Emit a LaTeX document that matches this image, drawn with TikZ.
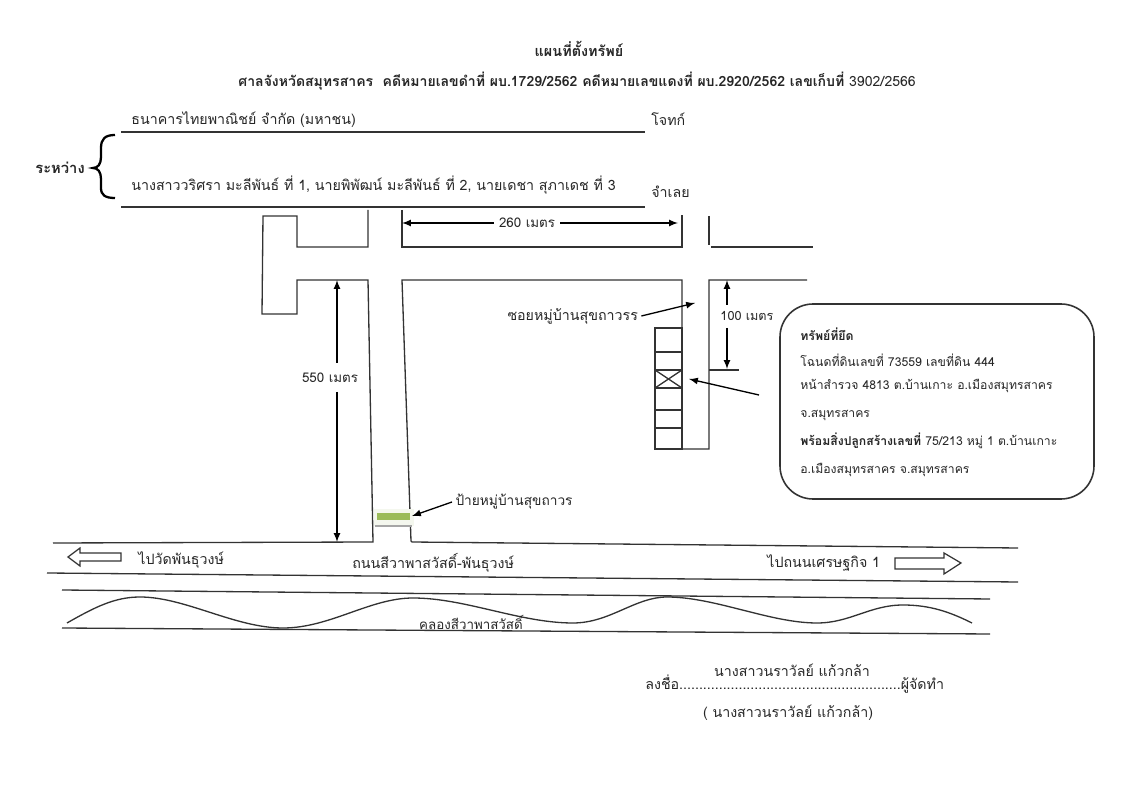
\documentclass[tikz,border=0pt]{standalone}
\usepackage{fontspec}
\setmainfont[Script=Thai]{Loma}

\definecolor{signgreen}{HTML}{9BBB59}
\definecolor{signhalo}{HTML}{F4F7EE}
\definecolor{inkgray}{gray}{0.2}

\tikzset{
  wall/.style={draw=inkgray, line width=0.75pt},
  mapline/.style={draw=inkgray, line width=0.75pt},
  dimarrow/.style={draw=black, line width=0.75pt, ->, >=latex},
  blockarrow/.style={draw=inkgray, line width=0.7pt, fill=white},
  lbl/.style={inner sep=0pt, anchor=west, text=black!85, font=\fontsize{8.1pt}{9pt}\selectfont},
  lblc/.style={inner sep=0pt, text=black!85, font=\fontsize{8.1pt}{9pt}\selectfont},
  dimlbl/.style={inner sep=0pt, text=black!85, font=\fontsize{7.6pt}{9pt}\selectfont},
  infotext/.style={inner sep=0pt, anchor=west, text=black!85, font=\fontsize{6.95pt}{8pt}\selectfont},
}

\begin{document}
\begin{tikzpicture}[x=0.02cm, y=-0.02cm]

\useasboundingbox (0,0) rectangle (1144,800);

\def\xst{121}; % party lines
\def\xen{645};
\def\xwa{368}; % main soi walls
\def\xwb{402};
\def\xsa{682}; % side soi walls
\def\xsb{709};
\def\yso{247}; % cross road
\def\ysu{280};

% heading
\node[lblc, font=\bfseries\fontsize{8.2pt}{9pt}\selectfont] (title) at (579, 49) {แผนที่ตั้งทรัพย์};
\node[lbl, font=\fontsize{8pt}{9pt}\selectfont] (court) at (238, 81) {\textbf{ศาลจังหวัดสมุทรสาคร\ \ คดีหมายเลขดำที่ ผบ.1729/2562 คดีหมายเลขแดงที่ ผบ.2920/2562 เลขเก็บที่} 3902/2566};

% parties
\node[lbl] (plaintiff) at (131, 120) {ธนาคารไทยพาณิชย์ จำกัด (มหาชน)};
\node[lbl] (plaintiffrole) at (651, 119) {โจทก์};
\node[lbl] (defendant) at (131, 185) {นางสาววริศรา มะลีพันธ์ ที่ 1, นายพิพัฒน์ มะลีพันธ์ ที่ 2, นายเดชา สุภาเดช ที่ 3};
\node[lbl] (defendantrole) at (651, 192) {จำเลย};
\node[lbl, font=\bfseries\fontsize{8.4pt}{9pt}\selectfont] (between) at (35, 168) {ระหว่าง};
\draw[mapline] (\xst, 132) -- (\xen, 132);
\draw[mapline] (\xst, 207) -- (\xen, 207);
% brace
\draw[black, line width=1.3pt] (115, 135) .. controls (105, 135) and (101, 139) .. (101, 148) -- (101, 157)
  .. controls (101, 164) and (98, 168) .. (93, 168)
  .. controls (98, 168) and (101, 172) .. (101, 179) -- (101, 188)
  .. controls (101, 195) and (105, 198) .. (115, 198);

% soi walls
\draw[wall] (\xwa, 210) -- (\xwa, \yso) -- (297, \yso) -- (297, 216) -- (263, 216) -- (262, 314) -- (297, 314) -- (297, \ysu) -- (\xwa, \ysu) -- (373, 542) -- (53, 543);
\draw[wall] (\xwb, 210) -- (\xwb, \yso) -- (\xsa, \yso) -- (\xsa, 215);
\draw[wall] (\xsb, 216) -- (\xsb, 245);
\draw[wall] (711, \yso) -- (813, \yso);
\draw[wall] (807, \ysu) -- (\xsb, \ysu) -- (\xsb, 449) -- (\xsa, 449) -- (\xsa, \ysu) -- (\xwb, \ysu) -- (411, 541) -- (412, 542) -- (1018, 548);
\draw[mapline] (47, 573) -- (1018, 582);

% canal
\draw[mapline] (62, 590) -- (990, 599);
\draw[mapline] (62, 628) -- (990, 634);
\draw[mapline] (67, 623) .. controls (95, 607) and (115, 597) .. (140, 597)
  .. controls (185, 597) and (235, 628) .. (283, 628)
  .. controls (330, 628) and (370, 598) .. (413, 598)
  .. controls (465, 598) and (520, 623) .. (573, 623)
  .. controls (610, 623) and (635, 597) .. (667, 597)
  .. controls (715, 597) and (770, 623) .. (817, 623)
  .. controls (850, 623) and (870, 605) .. (903, 605)
  .. controls (930, 605) and (950, 612) .. (972, 623);
\node[dimlbl] (canal) at (471, 622) {คลองสีวาพาสวัสดิ์};

% houses
\draw[wall] (655, 328) rectangle (\xsa, 449);
\foreach \yh in {352, 370, 388, 410, 428}
  \draw[wall] (655, \yh) -- (\xsa, \yh);
\draw[wall] (655, 370) -- (\xsa, 388);
\draw[wall] (655, 388) -- (\xsa, 370);
\draw[wall] (\xsb, 370) -- (739, 370);

% village sign
\fill[signhalo] (374, 509) rectangle (414, 526);
\fill[signgreen] (377, 513) rectangle (410, 520);
\draw[black!35, line width=0.75pt] (375, 526) -- (412, 526);

% dimensions
\node[dimlbl, outer sep=3pt] (dist260) at (527, 223) {260 เมตร};
\coordinate (dist260l) at (\xwb, 223);
\coordinate (dist260r) at (678, 223);
\draw[dimarrow] (dist260) -- (dist260l);
\draw[dimarrow] (dist260) -- (dist260r);

\node[dimlbl] (dist550) at (330, 378) {550 เมตร};
\coordinate (dist550a) at (337, 363);
\coordinate (dist550b) at (337, \ysu);
\coordinate (dist550c) at (337, 392);
\coordinate (dist550d) at (337, 542);
\draw[dimarrow] (dist550a) -- (dist550b);
\draw[dimarrow] (dist550c) -- (dist550d);

\node[dimlbl, font=\fontsize{7.2pt}{9pt}\selectfont] (dist100) at (747, 316) {100 เมตร};
\coordinate (dist100a) at (727, 305);
\coordinate (dist100b) at (727, \ysu);
\coordinate (dist100c) at (727, 328);
\coordinate (dist100d) at (727, 369);
\draw[dimarrow] (dist100a) -- (dist100b);
\draw[dimarrow] (dist100c) -- (dist100d);

% pointers
\node[lbl, outer sep=2pt] (soilabel) at (504, 316) {ซอยหมู่บ้านสุขถาวรร};
\coordinate (soiend) at (695, 303);
\draw[dimarrow] (soilabel.east) -- (soiend);

\node[lbl, outer sep=2pt, font=\fontsize{7.8pt}{9pt}\selectfont] (signlabel) at (452, 502) {ป้ายหมู่บ้านสุขถาวร};
\coordinate (signend) at (412, 516);
\draw[dimarrow] (signlabel.west) -- (signend);

\coordinate (housestart) at (759, 395);
\coordinate (houseend) at (689, 379);
\draw[dimarrow] (housestart) -- (houseend);

% seized property box
\draw[draw=inkgray, line width=0.9pt, rounded corners=0.66cm] (780, 304) rectangle (1094, 499);
\node[infotext, font=\bfseries\fontsize{7pt}{8pt}\selectfont] (propa) at (800, 334) {ทรัพย์ที่ยึด};
\node[infotext] (propb) at (800, 360) {โฉนดที่ดินเลขที่ 73559 เลขที่ดิน 444};
\node[infotext] (propc) at (800, 386) {หน้าสำรวจ 4813 ต.บ้านเกาะ อ.เมืองสมุทรสาคร};
\node[infotext] (propd) at (800, 415) {จ.สมุทรสาคร};
\node[infotext] (prope) at (800, 441) {\textbf{พร้อมสิ่งปลูกสร้างเลขที่} 75/213 หมู่ 1 ต.บ้านเกาะ};
\node[infotext] (propf) at (800, 470) {อ.เมืองสมุทรสาคร จ.สมุทรสาคร};

% road
\node[lbl] (roadname) at (352, 563) {ถนนสีวาพาสวัสดิ์-พันธุวงษ์};
\node[lbl] (toleft) at (138, 560) {ไปวัดพันธุวงษ์};
\node[lbl] (toright) at (767, 563) {ไปถนนเศรษฐกิจ 1};
\draw[blockarrow] (68, 557) -- (80, 548) -- (80, 553) -- (121, 553) -- (121, 561) -- (80, 561) -- (80, 566) -- cycle;
\draw[blockarrow] (961, 563) -- (944, 553) -- (944, 558) -- (895, 558) -- (895, 569) -- (944, 569) -- (944, 574) -- cycle;

% signature
\node[lblc] (signname) at (792, 670) {นางสาวนราวัลย์ แก้วกล้า};
\node[lbl] (signline) at (645, 684) {ลงชื่อ........................................................ผู้จัดทำ};
\node[lblc] (signprint) at (788, 713) {( นางสาวนราวัลย์ แก้วกล้า)};

\end{tikzpicture}
\end{document}
